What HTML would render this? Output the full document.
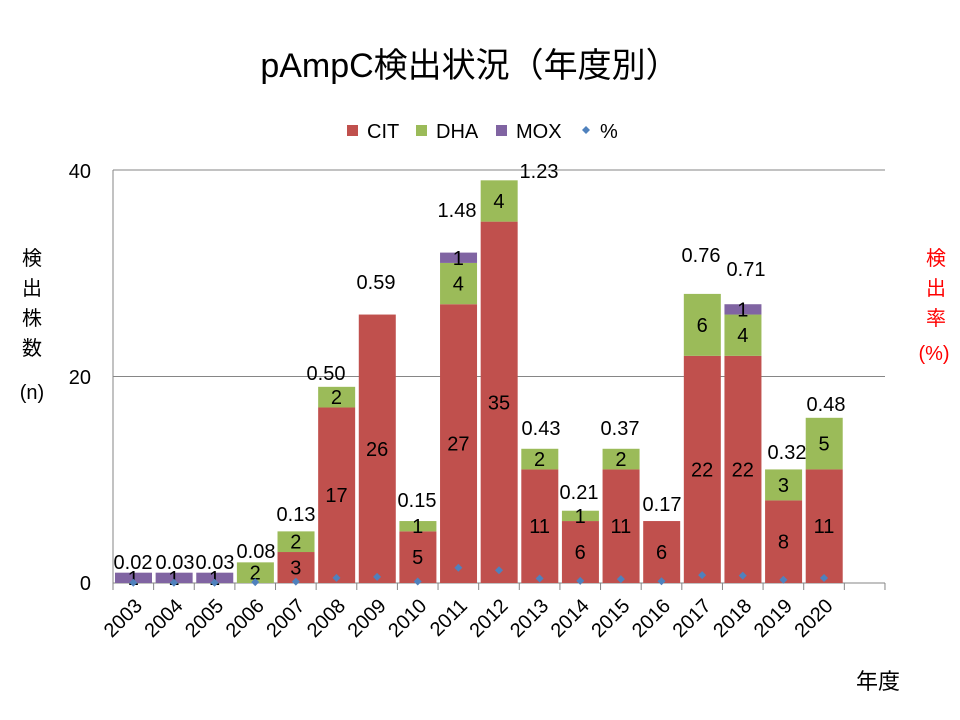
<!DOCTYPE html><html><head><meta charset="utf-8"><style>body{margin:0;background:#fff}svg{display:block;font-family:"Liberation Sans","Noto Sans CJK JP",sans-serif}</style></head><body>
<svg id="s" width="960" height="720" xmlns="http://www.w3.org/2000/svg"></svg>
<script>
const s=document.getElementById('s');let h='';
const X0=113,W=40.63,Y0=583,K=10.325;
const cit=[0,0,0,0,3,17,26,5,27,35,11,6,11,6,22,22,8,11];
const dha=[0,0,0,2,2,2,0,1,4,4,2,1,2,0,6,4,3,5];
const mox=[1,1,1,0,0,0,0,0,1,0,0,0,0,0,0,1,0,0];
const pct=[0.02,0.03,0.03,0.08,0.13,0.50,0.59,0.15,1.48,1.23,0.43,0.21,0.37,0.17,0.76,0.71,0.32,0.48];
const pl=[[133,562],[175,562],[215,562],[256,551],[296,514],[326,373],[376,282],[417,500],[457,210],[539,171],[541,428],[579,492],[620,428],[662,504],[701,255],[746,269],[787,452],[826,404]];
h+=`<text x="470" y="77" font-size="34" text-anchor="middle">pAmpC検出状況（年度別）</text>`;
h+=`<line x1="${X0}" y1="170" x2="885" y2="170" stroke="#868686"/><line x1="${X0}" y1="376.5" x2="885" y2="376.5" stroke="#868686"/>`;
h+=`<line x1="${X0}" y1="170" x2="${X0}" y2="${Y0}" stroke="#868686"/><line x1="${X0}" y1="${Y0}" x2="885" y2="${Y0}" stroke="#868686"/>`;
for(let i=0;i<=19;i++){const x=X0+i*W;h+=`<line x1="${x}" y1="${Y0}" x2="${x}" y2="${Y0+7}" stroke="#868686"/>`}
[[0,590],[20,384],[40,178]].forEach(([v,y])=>h+=`<text x="91" y="${y}" font-size="20" text-anchor="end">${v}</text>`);
for(let i=0;i<18;i++){const x=X0+i*W+2,cx=X0+i*W+W/2;let b=0;
 [[cit[i],'#c0504d'],[dha[i],'#9bbb59'],[mox[i],'#8064a2']].forEach(([v,c])=>{if(v>0){const y1=Y0-(b+v)*K,hh=v*K;h+=`<rect x="${x}" y="${y1}" width="37" height="${hh}" fill="${c}"/>`;h+=`<text x="${cx}" y="${y1+hh/2+7}" font-size="20" text-anchor="middle">${v}</text>`;b+=v}});
 const py=Y0-pct[i]*K;h+=`<path d="M${cx} ${py-4}L${cx+4} ${py}L${cx} ${py+4}L${cx-4} ${py}Z" fill="#4f81bd"/>`;
 h+=`<text x="${pl[i][0]}" y="${pl[i][1]+7}" font-size="20" text-anchor="middle">${pct[i].toFixed(2)}</text>`;
 h+=`<text transform="translate(${cx+10},607) rotate(-45)" font-size="20" text-anchor="end">${2003+i}</text>`;}
h+=`<rect x="347" y="125" width="11" height="11" fill="#c0504d"/><text x="367" y="138" font-size="20">CIT</text>`;
h+=`<rect x="416" y="125" width="11" height="11" fill="#9bbb59"/><text x="436" y="138" font-size="20">DHA</text>`;
h+=`<rect x="496" y="125" width="11" height="11" fill="#8064a2"/><text x="516" y="138" font-size="20">MOX</text>`;
h+=`<path d="M586 126L590 130L586 134L582 130Z" fill="#4f81bd"/><text x="600" y="138" font-size="20">%</text>`;
['検','出','株','数'].forEach((c,i)=>h+=`<text x="32" y="${265+i*30}" font-size="20" text-anchor="middle">${c}</text>`);
h+=`<text x="32" y="399" font-size="20" text-anchor="middle">(n)</text>`;
['検','出','率'].forEach((c,i)=>h+=`<text x="936" y="${265+i*30}" font-size="20" fill="#ff0000" text-anchor="middle">${c}</text>`);
h+=`<text x="934" y="360" font-size="20" fill="#ff0000" text-anchor="middle">(%)</text>`;
h+=`<text x="878" y="689" font-size="22" text-anchor="middle">年度</text>`;
s.innerHTML=h;
</script></body></html>
